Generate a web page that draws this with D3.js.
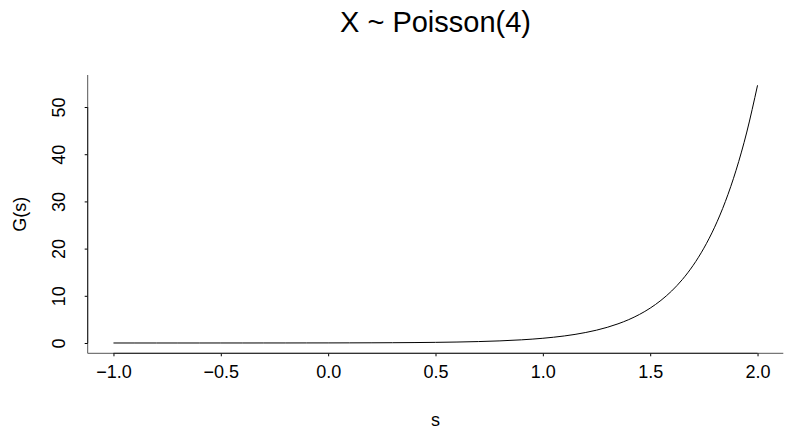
<!DOCTYPE html>
<html>
<head>
<meta charset="utf-8">
<script src="https://cdn.jsdelivr.net/npm/d3@7"></script>
<style>
  html, body { margin: 0; padding: 0; background: #fff; }
  svg { display: block; font-family: "Liberation Sans", Arial, sans-serif; }
</style>
</head>
<body>
<svg id="chart" width="794" height="432"></svg>
<script>
// Probability generating function of X ~ Poisson(4), sampled along s
const sValues = [
  -1.0, -0.9, -0.8, -0.7, -0.6, -0.5, -0.4, -0.3, -0.2, -0.1,
   0.0,  0.1,  0.2,  0.3,  0.4,  0.5,  0.6,  0.7,  0.8,  0.9,
   1.0,  1.1,  1.15, 1.2, 1.25, 1.3, 1.35, 1.4, 1.45, 1.5,
   1.55, 1.6, 1.65, 1.7, 1.75, 1.8, 1.85, 1.9, 1.95, 2.0
];
const gValues = [
  0.0003, 0.0005, 0.0007, 0.0011, 0.0017, 0.0025, 0.0037, 0.0055, 0.0082, 0.0123,
  0.018,  0.027,  0.041,  0.061,  0.091,  0.135,  0.202,  0.301,  0.449,  0.670,
  1.00,   1.49,   1.82,   2.23,   2.72,   3.32,   4.06,   4.95,   6.05,   7.39,
  9.03,  11.02,  13.46,  16.44,  20.09,  24.53,  29.96,  36.60,  44.70,  54.60
];
const xTicks = [-1.0, -0.5, 0.0, 0.5, 1.0, 1.5, 2.0];
const yTicks = [0, 10, 20, 30, 40, 50];
const xTickLabels = ["\u22121.0", "\u22120.5", "0.0", "0.5", "1.0", "1.5", "2.0"];
const titleText = "X ~ Poisson(4)";
const xLabel = "s";
const yLabel = "G(s)";

const svg = d3.select("#chart");
const plot = { left: 87.7, right: 783.3, top: 75, bottom: 353.3 };

// 4% padding on each side of the data range
const pad = (lo, hi) => { const d = (hi - lo) * 0.04; return [lo - d, hi + d]; };
const xDom = pad(d3.min(sValues), d3.max(sValues));
const yDom = pad(d3.min(gValues), d3.max(gValues));

const x = d3.scaleLinear().domain(xDom).range([plot.left, plot.right]);
const y = d3.scaleLinear().domain(yDom).range([plot.bottom, plot.top]);

const fontSize = 18;

// L-shaped frame
svg.append("path")
  .attr("d", `M${plot.left},${plot.top}V${plot.bottom}H${plot.right}`)
  .attr("fill", "none")
  .attr("stroke", "#555")
  .attr("stroke-width", 1);

// x axis
const xAxis = svg.append("g")
  .attr("transform", `translate(0,${plot.bottom})`)
  .call(d3.axisBottom(x).tickValues(xTicks)
    .tickFormat((d, i) => xTickLabels[i]).tickSize(3).tickPadding(9));
xAxis.select(".domain").remove();
xAxis.append("line")
  .attr("x1", x(xTicks[0])).attr("x2", x(xTicks[xTicks.length - 1]))
  .attr("stroke", "#222");
xAxis.selectAll(".tick line").attr("stroke", "#000");
xAxis.selectAll("text")
  .attr("font-size", fontSize)
  .attr("font-family", "Liberation Sans, Arial, sans-serif")
  .attr("fill", "#000");

// y axis with rotated labels
const yAxis = svg.append("g")
  .attr("transform", `translate(${plot.left},0)`)
  .call(d3.axisLeft(y).tickValues(yTicks).tickSize(3).tickFormat(d3.format("d")));
yAxis.select(".domain").remove();
yAxis.append("line")
  .attr("y1", y(yTicks[0])).attr("y2", y(yTicks[yTicks.length - 1]))
  .attr("stroke", "#222");
yAxis.selectAll(".tick line").attr("stroke", "#000");
yAxis.selectAll(".tick text")
  .attr("x", null).attr("dy", null)
  .attr("font-size", fontSize)
  .attr("font-family", "Liberation Sans, Arial, sans-serif")
  .attr("fill", "#000")
  .attr("text-anchor", "middle")
  .attr("transform", "translate(-23,0) rotate(-90)");

// curve
const line = d3.line()
  .x((d, i) => x(sValues[i]))
  .y(d => y(d))
  .curve(d3.curveMonotoneX);
svg.append("path")
  .datum(gValues)
  .attr("d", line)
  .attr("fill", "none")
  .attr("stroke", "#000")
  .attr("stroke-width", 1);

// titles
const cx = (plot.left + plot.right) / 2;
svg.append("text")
  .attr("x", cx).attr("y", 32)
  .attr("text-anchor", "middle")
  .attr("font-size", 29)
  .text(titleText);
svg.append("text")
  .attr("x", cx).attr("y", 426)
  .attr("text-anchor", "middle")
  .attr("font-size", fontSize)
  .text(xLabel);
svg.append("text")
  .attr("transform", `translate(26,${(plot.top + plot.bottom) / 2}) rotate(-90)`)
  .attr("text-anchor", "middle")
  .attr("font-size", fontSize)
  .text(yLabel);
</script>
</body>
</html>
